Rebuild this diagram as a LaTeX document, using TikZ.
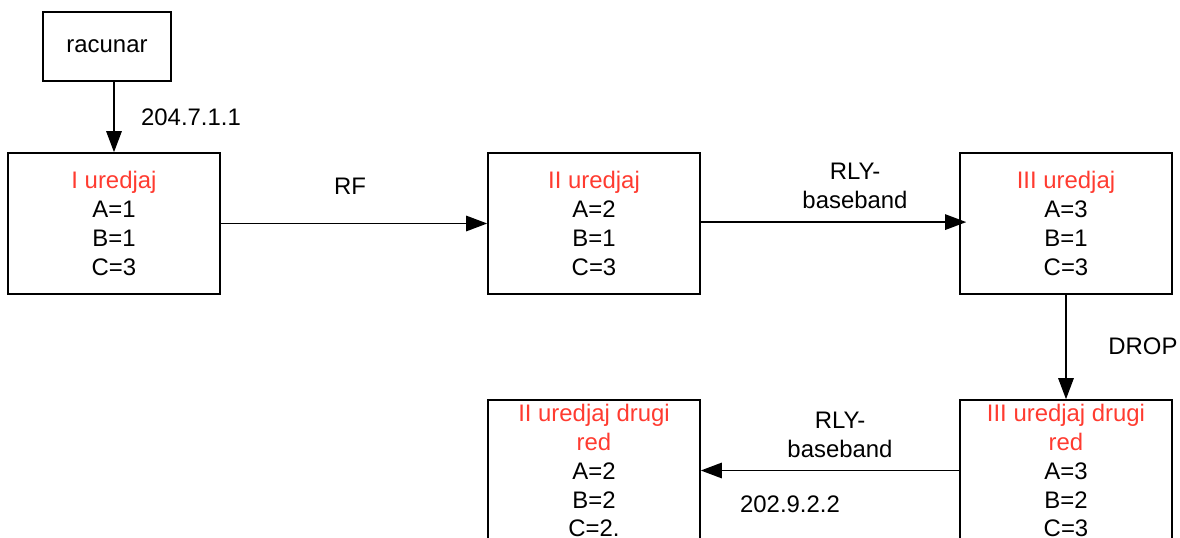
\documentclass[tikz,border=0pt]{standalone}
\usepackage{fontspec}
\setmainfont{Liberation Sans}
\usetikzlibrary{arrows.meta}
\definecolor{devred}{RGB}{255,59,48}
\begin{document}
\begin{tikzpicture}[x=0.025cm,y=-0.025cm,
  every node/.style={font=\fontsize{17}{20.6}\selectfont, inner sep=0pt},
  dev/.style={draw, line width=1.1pt, minimum width=212*0.7113pt, minimum height=141*0.7113pt, align=center},
  pcbox/.style={draw, line width=1.1pt, minimum width=128*0.7113pt, minimum height=69*0.7113pt},
  lbl/.style={align=center},
  conn/.style={line width=1.1pt, -{Triangle[length=15pt,width=11pt]}}]
\useasboundingbox (0,0) rectangle (1180,538);
\node[pcbox] (pc) at (107,46.5) {racunar};
\node[dev] (d1) at (114,223.5) {\textcolor{devred}{I uredjaj}\\A=1\\B=1\\C=3};
\node[dev] (d2) at (594,223.5) {\textcolor{devred}{II uredjaj}\\A=2\\B=1\\C=3};
\node[dev] (d3) at (1066,223.5) {\textcolor{devred}{III uredjaj}\\A=3\\B=1\\C=3};
\node[dev] (d4) at (594,470.5) {\textcolor{devred}{II uredjaj drugi}\\\textcolor{devred}{red}\\A=2\\B=2\\C=2.};
\node[dev] (d5) at (1066,470.5) {\textcolor{devred}{III uredjaj drugi}\\\textcolor{devred}{red}\\A=3\\B=2\\C=3};
\draw[conn] (d1.north |- pc.south) -- (d1.north);
\draw[conn] (d1.east) -- (d2.west);
\draw[conn] ([yshift=1pt]d2.east) -- ([xshift=5pt,yshift=1pt]d3.west);
\draw[conn] (d3.south) -- (d5.north);
\draw[conn] (d5.west) -- (d4.west -| d4.east);
\node[lbl] (l1) at (191,117) {204.7.1.1};
\node[lbl] (l2) at (350,186) {RF};
\node[lbl] (l3) at (855,186) {RLY-\\baseband};
\node[lbl] (l4) at (1143,346) {DROP};
\node[lbl] (l5) at (840,435) {RLY-\\baseband};
\node[lbl] (l6) at (790,504) {202.9.2.2};
\end{tikzpicture}
\end{document}
